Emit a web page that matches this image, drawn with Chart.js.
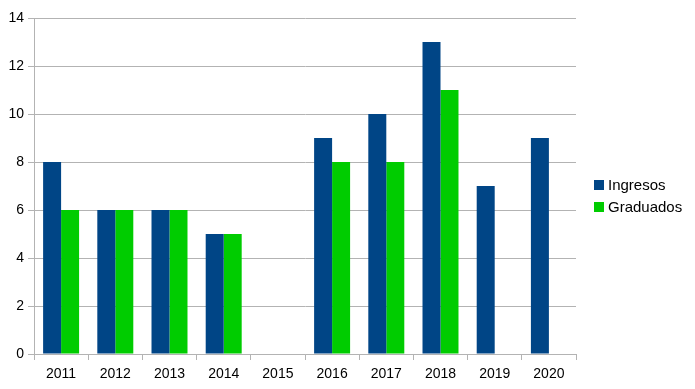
<!DOCTYPE html>
<html>
<head>
<meta charset="utf-8">
<script src="https://cdn.jsdelivr.net/npm/chart.js@4.4.0/dist/chart.umd.min.js"></script>
<style>
  html, body { margin: 0; padding: 0; background: #fff; }
  #wrap { width: 695px; height: 389px; }
</style>
</head>
<body>
<div id="wrap"><canvas id="myChart" width="695" height="389"></canvas></div>
<script>
// years on the x axis
var years = ['2011', '2012', '2013', '2014', '2015', '2016', '2017', '2018', '2019', '2020'];
// series (null = no bar)
var ingresos = [8, 6, 6, 5, null, 9, 10, 13, 7, 9];
var graduados = [6, 6, 6, 5, null, 8, 8, 11, null, null];
var yTicks = [0, 2, 4, 6, 8, 10, 12, 14];

var gridColor = '#b3b3b3';
var fontFamily = 'Liberation Sans';

// legend drawn by hand so it sits where the original has it
var sideLegend = {
  id: 'sideLegend',
  afterDraw: function(chart) {
    var c = chart.ctx;
    var x = chart.chartArea.right + 18;
    var y = 185;
    c.save();
    c.font = '15px "' + fontFamily + '"';
    c.textBaseline = 'middle';
    chart.data.datasets.forEach(function(ds, i) {
      var cy = y + i * 22;
      c.fillStyle = ds.backgroundColor;
      c.fillRect(x, cy - 5, 10, 10);
      c.fillStyle = '#000';
      c.fillText(ds.label, x + 14, cy + 1);
    });
    c.restore();
  }
};

var ctx = document.getElementById('myChart').getContext('2d');
var chart = new Chart(ctx, {
  type: 'bar',
  data: {
    labels: years,
    datasets: [{
      label: 'Ingresos',
      backgroundColor: '#004586',
      data: ingresos
    }, {
      label: 'Graduados',
      backgroundColor: '#00cc00',
      data: graduados
    }]
  },
  plugins: [sideLegend],
  options: {
    responsive: false,
    animation: false,
    layout: { padding: { top: 18, right: 119, left: 0, bottom: 0 } },
    datasets: {
      bar: { categoryPercentage: 0.664, barPercentage: 1.0 }
    },
    plugins: {
      tooltip: { enabled: false },
      legend: { display: false }
    },
    scales: {
      x: {
        offset: true,
        grid: {
          offset: true,
          drawOnChartArea: false,
          drawTicks: true,
          tickLength: 6,
          color: gridColor
        },
        border: { color: gridColor },
        ticks: {
          color: '#000',
          padding: 6,
          font: { family: fontFamily, size: 14 }
        },
        afterFit: function(scale) { scale.height = 35; }
      },
      y: {
        min: 0,
        max: 14,
        afterBuildTicks: function(scale) {
          scale.ticks = yTicks.map(function(v) { return { value: v }; });
        },
        grid: {
          color: gridColor,
          tickLength: 6
        },
        border: { color: gridColor },
        ticks: {
          color: '#000',
          padding: 4,
          font: { family: fontFamily, size: 14 }
        },
        afterFit: function(scale) { scale.width = 34; }
      }
    }
  }
});
</script>
</body>
</html>
